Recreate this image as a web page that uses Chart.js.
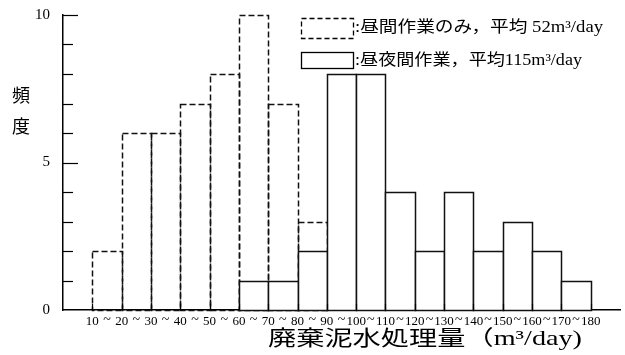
<!DOCTYPE html>
<html lang="ja">
<head>
<meta charset="utf-8">
<title>廃棄泥水処理量の頻度</title>
<script src="https://cdn.jsdelivr.net/npm/chart.js@4"></script>
<style>
  html, body { margin: 0; padding: 0; background: #fff; }
  canvas { display: block; }
</style>
</head>
<body>
<canvas id="histChart" width="625" height="355"></canvas>
<script>
// lower edge of each 10 m3/day bin
const binStarts = [10, 20, 30, 40, 50, 60, 70, 80, 90, 100, 110, 120, 130, 140, 150, 160, 170];
// 昼間作業のみ (dashed outline)
const dayOnly = [2, 6, 6, 7, 8, 10, 7, 3, 0, 0, 0, 0, 0, 0, 0, 0, 0];
// 昼夜間作業 (solid outline)
const dayNight = [0, 0, 0, 0, 0, 1, 1, 2, 8, 8, 4, 2, 4, 2, 3, 2, 1];
const xEdgeLabels = [10, 20, 30, 40, 50, 60, 70, 80, 90, 100, 110, 120, 130, 140, 150, 160, 170, 180];
const yTickLabels = [0, 5, 10];
const legendLabels = [":昼間作業のみ，平均 52m³/day", ":昼夜間作業，平均115m³/day"];
const xTitle = "廃棄泥水処理量（m³/day)";
const yTitle = ["頻", "度"];

const serif = "'Liberation Serif', 'Noto Sans CJK JP', serif";

function toPoints(values) {
  return binStarts
    .map((s, i) => ({ x: s + 5, y: values[i] }))
    .filter((p) => p.y > 0);
}

// squeeze/stretch a line of text to a given width
function fitText(ctx, text, x, y, width, font) {
  ctx.font = font;
  const w = ctx.measureText(text).width;
  ctx.save();
  ctx.translate(x, y);
  ctx.scale(width / w, 1);
  ctx.fillText(text, 0, 0);
  ctx.restore();
}

function seg(ctx, x1, y1, x2, y2) {
  ctx.beginPath();
  ctx.moveTo(x1, y1);
  ctx.lineTo(x2, y2);
  ctx.stroke();
}

// bars drawn as outlined rectangles so the dashed set can use a dash pattern
const histBars = {
  id: "histBars",
  beforeDatasetDraw(chart, args) {
    const ds = chart.data.datasets[args.index];
    const ctx = chart.ctx;
    ctx.save();
    ctx.lineWidth = ds.borderWidth;
    ctx.strokeStyle = ds.borderColor;
    ctx.fillStyle = ds.backgroundColor;
    ctx.setLineDash(ds.dash || []);
    args.meta.data.forEach((bar) => {
      const { x, y, base, width } = bar.getProps(["x", "y", "base", "width"], true);
      const left = Math.round(x - width / 2) + 0.5;
      const right = Math.round(x + width / 2) + 0.5;
      const top = Math.round(y) + 0.5;
      const bottom = Math.round(base) + 0.5;
      ctx.fillRect(left, top, right - left, bottom - top);
      ctx.strokeRect(left, top, right - left, bottom - top);
    });
    ctx.restore();
    return false;
  },
};

const decorations = {
  id: "decorations",
  afterDraw(chart) {
    const { ctx, scales: { x, y } } = chart;
    ctx.save();
    ctx.strokeStyle = "#000";
    ctx.fillStyle = "#000";
    ctx.lineWidth = 1.2;

    // inward ticks on the y axis
    for (let v = 1; v <= 10; v++) {
      const py = Math.round(y.getPixelForValue(v)) + 0.5;
      const len = v % 5 === 0 ? 15 : 10;
      seg(ctx, x.left, py, x.left + len, py);
    }
    // inward ticks on the x axis, and the "~" between the bin edges
    ctx.font = "14px " + serif;
    ctx.textAlign = "center";
    ctx.textBaseline = "middle";
    xEdgeLabels.forEach((v, i) => {
      const px = Math.round(x.getPixelForValue(v)) + 0.5;
      seg(ctx, px, y.bottom, px, y.bottom - 6);
      if (i < xEdgeLabels.length - 1) {
        ctx.fillText("~", x.getPixelForValue(v + 5), 320);
      }
    });

    // legend
    ctx.lineWidth = 1.3;
    ctx.setLineDash([5, 3]);
    ctx.strokeRect(301.5, 18.5, 52, 20);
    ctx.setLineDash([]);
    ctx.strokeRect(301.5, 52.5, 52, 16);
    ctx.textAlign = "left";
    fitText(ctx, legendLabels[0], 355, 28, 248, "16px " + serif);
    fitText(ctx, legendLabels[1], 355, 61, 227, "16px " + serif);

    // axis titles
    fitText(ctx, xTitle, 268, 339, 314, "21px " + serif);
    ctx.textAlign = "center";
    ctx.font = "18px " + serif;
    ctx.fillText(yTitle[0], 21, 97);
    ctx.fillText(yTitle[1], 21, 128);
    ctx.restore();
  },
};

new Chart(document.getElementById("histChart"), {
  type: "bar",
  data: {
    datasets: [
      {
        label: "昼間作業のみ",
        data: toPoints(dayOnly),
        order: 2,
        dash: [6, 3],
        borderColor: "#111",
        borderWidth: 1.5,
        backgroundColor: "rgba(255,255,255,0)",
      },
      {
        label: "昼夜間作業",
        data: toPoints(dayNight),
        order: 1,
        borderColor: "#111",
        borderWidth: 1.5,
        backgroundColor: "#fff",
      },
    ],
  },
  options: {
    responsive: false,
    animation: false,
    devicePixelRatio: 1,
    layout: { padding: { top: 15, right: 5, left: 0, bottom: 0 } },
    datasets: { bar: { grouped: false, barPercentage: 1, categoryPercentage: 1 } },
    plugins: { legend: { display: false }, tooltip: { enabled: false } },
    scales: {
      x: {
        type: "linear",
        min: 0,
        max: 190,
        offset: false,
        grid: { display: false, drawTicks: false },
        border: { display: true, color: "#000", width: 1.5 },
        ticks: {
          stepSize: 10,
          autoSkip: false,
          maxRotation: 0,
          padding: 4,
          color: "#000",
          font: { family: serif, size: 13 },
          callback: (v) => (xEdgeLabels.includes(v) ? String(v) : ""),
        },
        afterFit: (s) => {
          s.height = 45;
          s.paddingLeft = 0;
          s.paddingRight = 0;
        },
      },
      y: {
        min: 0,
        max: 10,
        grid: { display: false, drawTicks: false },
        border: { display: true, color: "#000", width: 1.5 },
        ticks: {
          stepSize: 1,
          padding: 13,
          color: "#000",
          font: { family: serif, size: 15 },
          callback: (v) => (yTickLabels.includes(v) ? String(v) : ""),
        },
        afterFit: (s) => {
          s.width = 63;
          s.paddingTop = 0;
          s.paddingBottom = 0;
        },
      },
    },
  },
  plugins: [histBars, decorations],
});
</script>
</body>
</html>
